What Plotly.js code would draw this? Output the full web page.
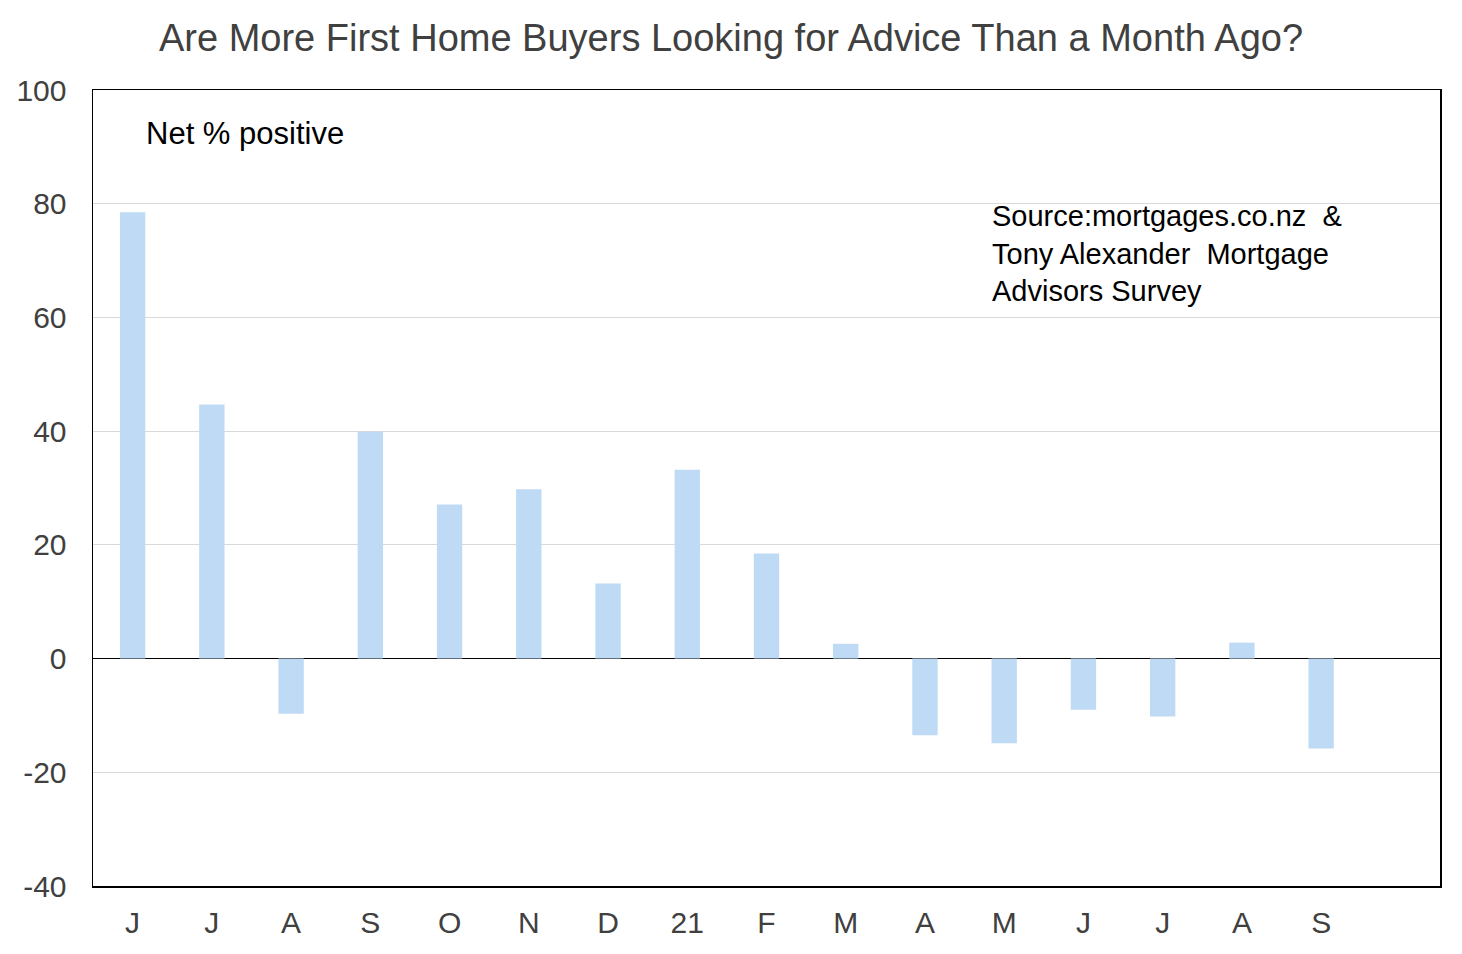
<!DOCTYPE html>
<html>
<head>
<meta charset="utf-8">
<script src="https://cdn.plot.ly/plotly-3.0.1.min.js"></script>
<style>
  html, body { margin: 0; padding: 0; background: #fff; }
  #chart { width: 1462px; height: 954px; }
</style>
</head>
<body>
<div id="chart"></div>
<script>
// Monthly survey, Jun 2020 to Sep 2021 (one spare slot at the end)
const monthLabels = ["J", "J", "A", "S", "O", "N", "D", "21", "F", "M", "A", "M", "J", "J", "A", "S"];
const netPositive = [78.5, 44.7, -9.7, 39.9, 27.1, 29.8, 13.2, 33.2, 18.5, 2.6, -13.5, -14.9, -9.0, -10.2, 2.8, -15.8];
const yTicks = [-40, -20, 0, 20, 40, 60, 80, 100];
const yTickText = ["-40", "-20", "0", "20", "40", "60", "80", "100"];
const slots = monthLabels.map((_, i) => i);

const font = "Liberation Sans, Arial, sans-serif";

const trace = {
  x: slots,
  y: netPositive,
  type: "bar",
  width: 0.32,
  marker: { color: "#bfdaf5", line: { width: 0 } },
  hoverinfo: "y",
};

const layout = {
  width: 1462,
  height: 954,
  margin: { l: 93, r: 22, t: 90, b: 68 },
  paper_bgcolor: "#fff",
  plot_bgcolor: "#fff",
  showlegend: false,
  font: { family: font, color: "#404040" },
  title: {
    text: "Are More First Home Buyers Looking for Advice Than a Month Ago?",
    font: { size: 38, color: "#404040", family: font },
    x: 0.5,
    xanchor: "center",
    y: 0.96,
    yanchor: "middle",
  },
  xaxis: {
    range: [-0.5, 16.5],
    tickvals: slots,
    ticktext: monthLabels,
    tickfont: { size: 30, color: "#404040" },
    showgrid: false,
    zeroline: false,
    showline: true,
    linecolor: "#000",
    linewidth: 1.5,
    mirror: true,
    ticks: "outside",
    ticklen: 9,
    tickcolor: "rgba(0,0,0,0)",
  },
  yaxis: {
    range: [-40, 100],
    tickvals: yTicks,
    ticktext: yTickText,
    tickfont: { size: 30, color: "#404040" },
    showgrid: true,
    gridcolor: "#d9d9d9",
    gridwidth: 1,
    zeroline: true,
    zerolinecolor: "#000",
    zerolinewidth: 1.5,
    showline: true,
    linecolor: "#000",
    linewidth: 1.5,
    mirror: true,
    ticks: "outside",
    ticklen: 19,
    tickcolor: "rgba(0,0,0,0)",
  },
  annotations: [
    {
      text: "Net % positive",
      xref: "paper", yref: "paper",
      x: 0.038, y: 0.945,
      xanchor: "left", yanchor: "middle",
      showarrow: false,
      font: { size: 31, color: "#000", family: font },
    },
    {
      text: "Source:mortgages.co.nz  &<br>Tony Alexander  Mortgage<br>Advisors Survey",
      xref: "paper", yref: "paper",
      x: 0.666, y: 0.864,
      xanchor: "left", yanchor: "top",
      align: "left",
      showarrow: false,
      font: { size: 29, color: "#000", family: font },
    },
  ],
};

Plotly.newPlot("chart", [trace], layout, { displayModeBar: false, staticPlot: true });
</script>
</body>
</html>
